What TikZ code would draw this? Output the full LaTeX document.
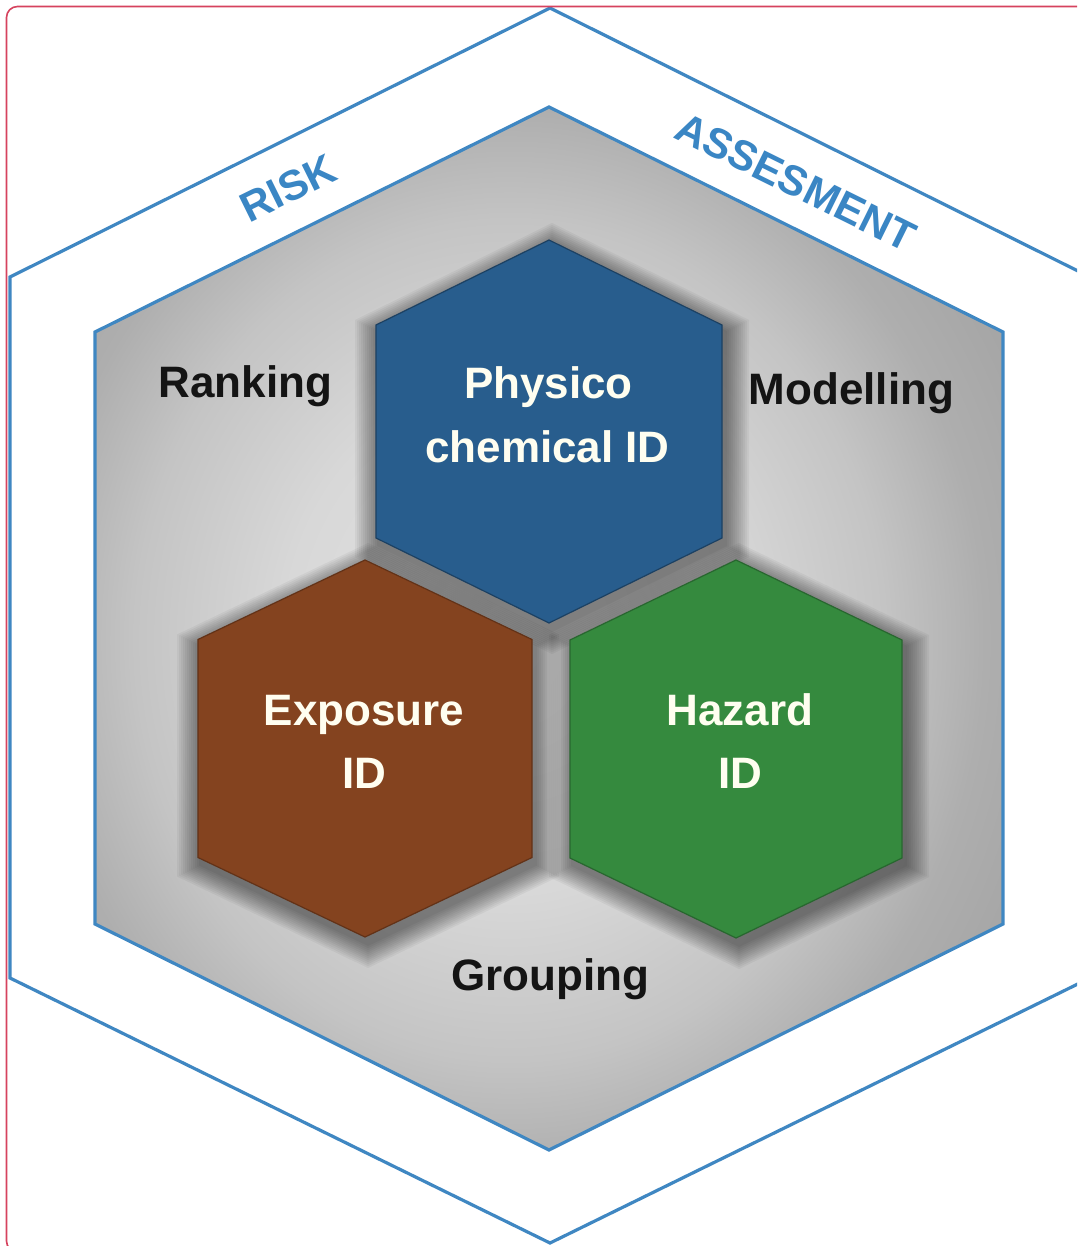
\documentclass[tikz,border=0pt]{standalone}
\usepackage{fontspec}
\setmainfont{Liberation Sans}
\definecolor{frameblue}{HTML}{3F87C2}
\definecolor{riskblue}{HTML}{3A86C4}
\definecolor{hexblue}{HTML}{285D8D}
\definecolor{hexbrown}{HTML}{84431F}
\definecolor{hexgreen}{HTML}{358A3E}
\definecolor{borderred}{HTML}{D6435E}
\definecolor{gA}{HTML}{E2E2E2}
\definecolor{gB}{HTML}{D8D8D8}
\definecolor{gC}{HTML}{C4C4C4}
\definecolor{gD}{HTML}{AEAEAE}
\definecolor{gE}{HTML}{A2A2A2}
\pgfdeclareradialshading{graybg}{\pgfpoint{0bp}{0bp}}{color(0bp)=(gA); color(11.25bp)=(gB); color(18.75bp)=(gC); color(23.75bp)=(gD); color(30bp)=(gE); color(50bp)=(gE)}
\newcommand\myhex[5]{({#1},{#2-(#4)}) -- ({#1+(#3)},{#2-(#5)}) -- ({#1+(#3)},{#2+(#5)}) -- ({#1},{#2+(#4)}) -- ({#1-(#3)},{#2+(#5)}) -- ({#1-(#3)},{#2-(#5)}) -- cycle}
\begin{document}
\begin{tikzpicture}[x=1pt,y=-1pt,
  lbl/.style={font=\fontsize{44}{50}\selectfont\bfseries, text=black!92, inner sep=0pt, anchor=base},
  hexlbl/.style={font=\fontsize{44}{50}\selectfont\bfseries, text=white!94!yellow, inner sep=0pt, anchor=base},
  band/.style={font=\fontsize{42}{48}\selectfont\bfseries, text=riskblue, inner sep=0pt},
  frame/.style={draw=frameblue, line width=3.2pt},
  shadowhex/.style={fill=black, opacity=0.045}
]
\useasboundingbox (0,0) rectangle (1077,1246);
\clip (0,0) rectangle (1077,1246);
\fill[white] (0,0) rectangle (1077,1246);
% outer hexagon
\path[fill=white, frame] (550,8) -- (1090,277) -- (1090,978) -- (550,1243) -- (10,978) -- (10,277) -- cycle;
% inner hexagon with soft grey vignette
\begin{scope}
  \clip (549,107) -- (1003,332) -- (1003,924) -- (549,1150) -- (95,924) -- (95,332) -- cycle;
  \shade[shading=graybg] (10,80) rectangle (1010,1200);
\end{scope}
\draw[frame] (549,107) -- (1003,332) -- (1003,924) -- (549,1150) -- (95,924) -- (95,332) -- cycle;
% shadows
\foreach \cx/\cy/\w/\h/\s in {549/431.5/173/191.5/106.5, 365/748.5/167/188.5/109, 736/749/166/189/109}{
  \foreach \e in {24,22,...,2}{
    \path[shadowhex] \myhex{\cx+3}{\cy+7}{\w+\e}{\h+\e}{\s+0.5*\e};
  }
}
% small hexagons
\path[fill=hexblue, draw=hexblue!70!black, line width=1.2pt] \myhex{549}{431.5}{173}{191.5}{106.5};
\path[fill=hexbrown, draw=hexbrown!75!black, line width=1.2pt] \myhex{365}{748.5}{167}{188.5}{109};
\path[fill=hexgreen, draw=hexgreen!75!black, line width=1.2pt] \myhex{736}{749}{166}{189}{109};
% texts
\node[hexlbl] (phys1) at (548.5,398) {Physico};
\node[hexlbl] (phys2) at (547.5,462) {chemical ID};
\node[hexlbl] (expo1) at (364,725) {Exposure};
\node[hexlbl] (expo2) at (364,788) {ID};
\node[hexlbl] (haz1) at (740,725) {Hazard};
\node[hexlbl] (haz2) at (740,788) {ID};
\node[lbl] (rank) at (245.5,397) {Ranking};
\node[lbl] (model) at (851.5,404) {Modelling};
\node[lbl] (group) at (550,990) {Grouping};
\node[band, rotate=26.3] (risk) at (288,188) {RISK};
\node[band, rotate=-26.3] (assess) at (796,182) {ASSESMENT};
% page frame
\draw[borderred, line width=1.6pt, rounded corners=11pt] (6.5,6.5) rectangle (1110,1252);
\end{tikzpicture}
\end{document}
